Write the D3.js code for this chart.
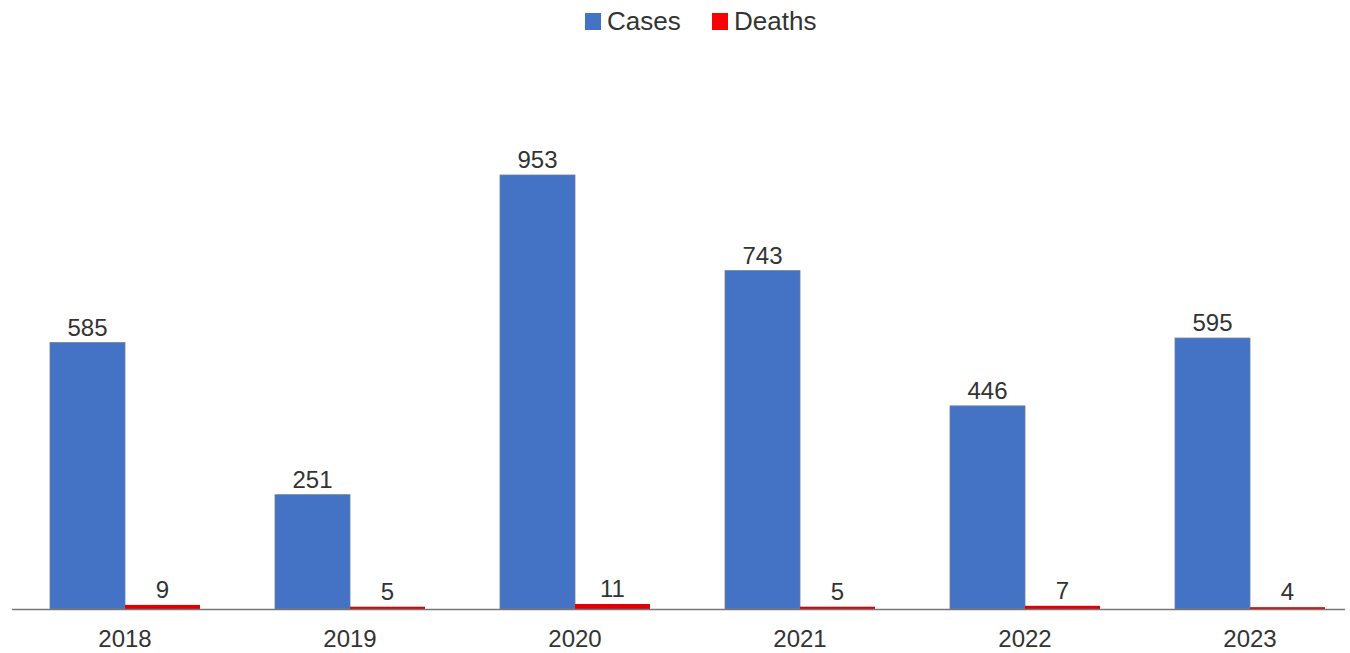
<!DOCTYPE html>
<html>
<head>
<meta charset="utf-8">
<script src="https://cdnjs.cloudflare.com/ajax/libs/d3/7.8.5/d3.min.js"></script>
<style>
  body { margin: 0; background: #fff; }
  text { font-family: 'Liberation Sans', Arial, sans-serif; fill: #333; }
</style>
</head>
<body>
<svg></svg>
<script>
var width = 1350;
var height = 653;

var years = ['2018', '2019', '2020', '2021', '2022', '2023'];
var cases = [585, 251, 953, 743, 446, 595];
var deaths = [9, 5, 11, 5, 7, 4];
var seriesNames = ['Cases', 'Deaths'];
var seriesColors = ['#4472C4', '#E00000'];

var baseline = 609;

var svg = d3.select('svg')
			.attr('width', width)
			.attr('height', height);

var data = years.map((y, i) => ({ year: y, Cases: cases[i], Deaths: deaths[i] }));

var x0 = d3.scaleBand()
		   .domain(years)
		   .range([12.5, 1362.5])
		   .paddingInner(1 / 3)
		   .paddingOuter(1 / 6);
var x1 = d3.scaleBand()
		   .domain(seriesNames)
		   .range([0, x0.bandwidth()]);
var yScale = d3.scaleLinear()
			   .domain([0, 953])
			   .range([baseline, 175]);
var color = d3.scaleOrdinal()
			  .domain(seriesNames)
			  .range(seriesColors);

var groups = svg.selectAll('.group')
				.data(data)
				.enter()
				.append('g')
				  .classed('group', true)
				  .attr('transform', d => `translate(${x0(d.year)}, 0)`);

groups.selectAll('rect')
	  .data(d => seriesNames.map(k => ({ key: k, value: d[k] })))
	  .enter()
	  .append('rect')
		.attr('x', d => x1(d.key))
		.attr('y', d => yScale(d.value))
		.attr('width', x1.bandwidth())
		.attr('height', d => baseline - yScale(d.value))
		.attr('fill', d => color(d.key))
		.attr('stroke', d => d.key === 'Cases' ? '#6d7f9c' : 'none')
		.attr('stroke-width', 0.8);

groups.selectAll('.label')
	  .data(d => seriesNames.map(k => ({ key: k, value: d[k] })))
	  .enter()
	  .append('text')
		.classed('label', true)
		.attr('x', d => x1(d.key) + x1.bandwidth() / 2)
		.attr('y', d => yScale(d.value) - 7)
		.attr('text-anchor', 'middle')
		.attr('font-size', '24px')
		.text(d => d.value);

// axis
var xAxis = d3.axisBottom(x0).tickSize(0).tickPadding(21);
var axisG = svg.append('g')
			   .attr('transform', `translate(0, ${baseline})`)
			   .call(xAxis);
axisG.select('.domain').remove();
axisG.selectAll('text')
	 .attr('font-size', '24px')
	 .attr('fill', '#333')
	 .style('font-family', "'Liberation Sans', Arial, sans-serif");
svg.append('line')
   .attr('x1', 12)
   .attr('x2', 1345)
   .attr('y1', baseline + 0.5)
   .attr('y2', baseline + 0.5)
   .attr('stroke', '#777')
   .attr('stroke-width', 1.5);

// legend
var legendX = [585, 712];
seriesNames.forEach((name, i) => {
	svg.append('rect')
	   .attr('x', legendX[i])
	   .attr('y', 13)
	   .attr('width', 16)
	   .attr('height', 17)
	   .attr('fill', i === 0 ? seriesColors[0] : '#FF0000');
	svg.append('text')
	   .attr('x', legendX[i] + 22)
	   .attr('y', 30)
	   .attr('font-size', '26px')
	   .text(name);
});
</script>
</body>
</html>
